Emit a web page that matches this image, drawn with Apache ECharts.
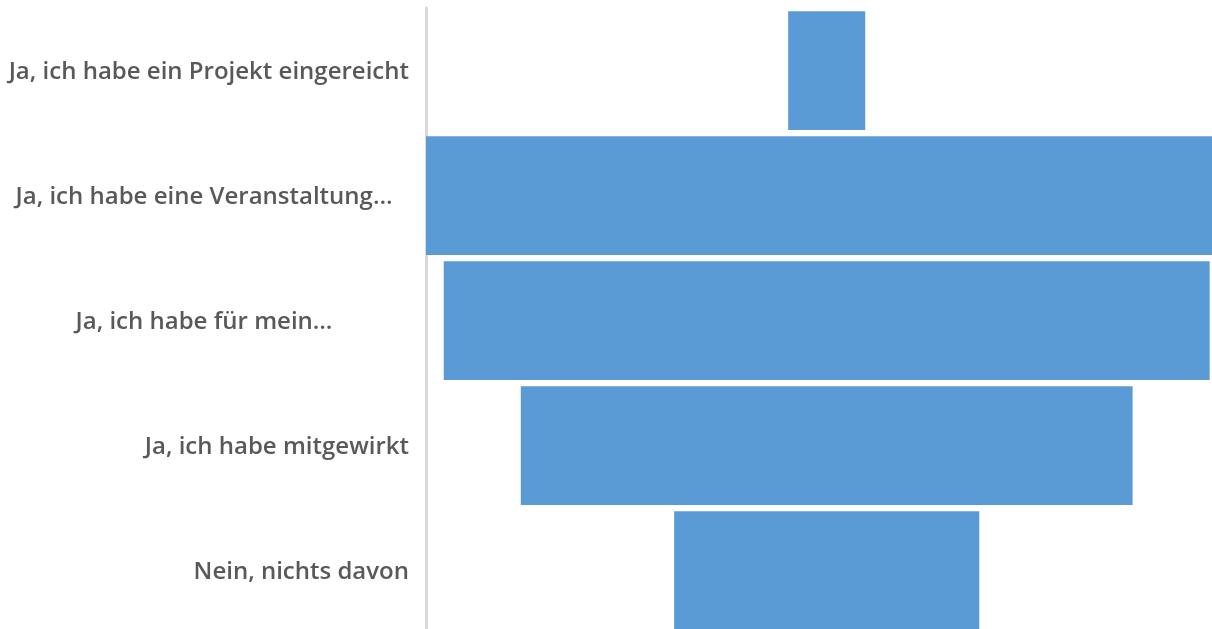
<!DOCTYPE html>
<html>
<head>
<meta charset="utf-8">
<script src="https://cdn.jsdelivr.net/npm/echarts@6/dist/echarts.min.js"></script>
<style>html,body{margin:0;padding:0;background:#fff;overflow:hidden;}#c{width:1212px;height:640px;}</style>
</head>
<body>
<div id="c"></div>
<script>
var categories = [
  'Ja, ich habe ein Projekt eingereicht',
  'Ja, ich habe eine Veranstaltung…',
  'Ja, ich habe für mein…',
  'Ja, ich habe mitgewirkt',
  'Nein, nichts davon'
];
var centeredLabels = [false, true, true, false, false];
var values = [5, 52, 49.7, 39.7, 19.8];
var axisMax = 51;

var maxVal = Math.max.apply(null, values);
var offsets = values.map(function (v) { return (maxVal - v) / 2; });

var chart = echarts.init(document.getElementById('c'));
chart.setOption({
  animation: false,
  grid: { left: 426, width: 786, top: 8, height: 625, containLabel: false },
  xAxis: { type: 'value', min: 0, max: axisMax, show: false },
  yAxis: {
    type: 'category',
    inverse: true,
    data: categories,
    axisLine: { show: true, lineStyle: { color: '#d9d9d9', width: 3 } },
    axisTick: { show: false },
    axisLabel: {
      margin: 17,
      formatter: function (val, idx) {
        return centeredLabels[idx] ? '{c|' + val + '}' : '{r|' + val + '}';
      },
      rich: {
        r: { fontFamily: 'Open Sans', fontSize: 24, fontWeight: 600, color: '#595959', align: 'right', padding: [3, 0, 0, 0] },
        c: { fontFamily: 'Open Sans', fontSize: 24, fontWeight: 600, color: '#595959', align: 'center', width: 410, padding: [3, 0, 0, 0] }
      }
    }
  },
  series: [
    { type: 'bar', stack: 'f', data: offsets, itemStyle: { color: 'transparent' }, barCategoryGap: '5%', silent: true },
    { type: 'bar', stack: 'f', data: values, itemStyle: { color: '#5B9BD5' }, barCategoryGap: '5%' }
  ]
});
</script>
</body>
</html>
